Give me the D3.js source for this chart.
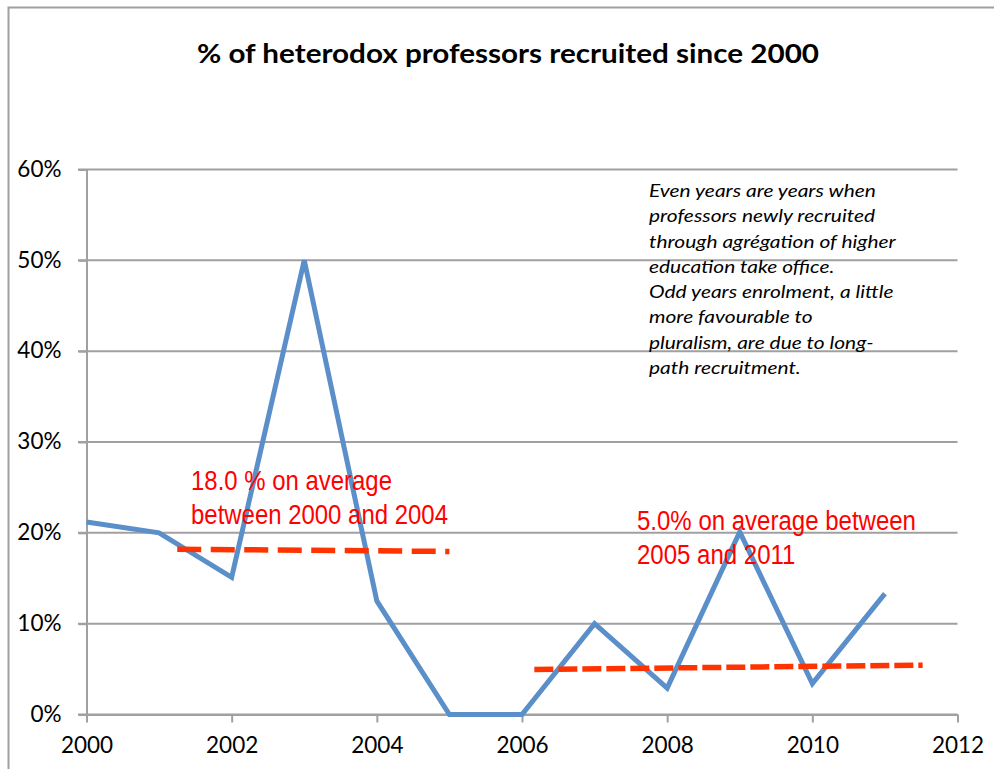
<!DOCTYPE html>
<meta charset="utf-8">
<title>% of heterodox professors recruited since 2000</title>
<style>
body {
  margin: 0;
  background: #fff;
}
.axis text {
  font-family: Lato, sans-serif;
  font-size: 22.5px;
  fill: #000;
}
.axis path, .axis line, .grid line {
  stroke: #a0a0a0;
  stroke-width: 2px;
}
</style>
<body>
<script src="https://cdn.jsdelivr.net/npm/d3@7"></script>
<script>

var years = [2000, 2001, 2002, 2003, 2004, 2005, 2006, 2007, 2008, 2009, 2010, 2011];
var share = [0.212, 0.200, 0.151, 0.500, 0.125, 0, 0, 0.100, 0.029, 0.201, 0.034, 0.133];

// trend segments drawn as in the original (start/end year, value)
var avg1 = [[2001.25, 0.182], [2005.0, 0.1795]];
var avg2 = [[2006.17, 0.0496], [2011.52, 0.0543]];

var xTicks = [2000, 2002, 2004, 2006, 2008, 2010, 2012];
var yTicks = [0, 0.1, 0.2, 0.3, 0.4, 0.5, 0.6];

var title = "% of heterodox professors recruited since 2000";
var label1 = ["18.0 % on average", "between 2000 and 2004"];
var label2 = ["5.0% on average between", "2005 and 2011"];
var note = [
  "Even years are years when",
  "professors newly recruited",
  "through agrégation of higher",
  "education take office.",
  "Odd years enrolment, a little",
  "more favourable to",
  "pluralism, are due to long-",
  "path recruitment."
];

var w = 994, h = 769;

var svg = d3.select("body").append("svg")
    .attr("width", w)
    .attr("height", h);

// outer frame (cut by the picture on right and bottom)
svg.append("rect")
    .attr("x", 8.5).attr("y", 7.5)
    .attr("width", 1000).attr("height", 800)
    .attr("fill", "none")
    .attr("stroke", "#a0a0a0")
    .attr("stroke-width", 2);

var x = d3.scaleLinear().domain([2000, 2012]).range([86.5, 957.5]);
var y = d3.scaleLinear().domain([0, 0.6]).range([714.5, 169.5]);

// grid
svg.append("g").attr("class", "grid")
  .selectAll("line")
  .data(yTicks)
  .enter().append("line")
    .attr("x1", 78).attr("x2", x(2012))
    .attr("y1", function(d) { return y(d); })
    .attr("y2", function(d) { return y(d); });

svg.append("g")
    .attr("class", "axis")
    .attr("transform", "translate(" + x(2000) + ",0)")
    .call(d3.axisLeft(y).tickValues(yTicks).tickSizeInner(8).tickSizeOuter(0).tickPadding(17)
      .tickFormat(d3.format(".0%")))
    .selectAll("text").attr("dy", "0.3em");

svg.append("g")
    .attr("class", "axis")
    .attr("transform", "translate(0," + y(0) + ")")
    .call(d3.axisBottom(x).tickValues(xTicks).tickSizeInner(8).tickSizeOuter(0).tickPadding(24)
      .tickFormat(d3.format("d")))
    .selectAll("text").attr("dy", "0.3em");

// main series
var line = d3.line()
    .x(function(d, i) { return x(years[i]); })
    .y(function(d) { return y(d); });

svg.append("path")
    .datum(share)
    .attr("d", line)
    .attr("fill", "none")
    .attr("stroke", "#5b8fca")
    .attr("stroke-width", 5)
    .attr("stroke-linejoin", "miter");

// averages
var seg = d3.line()
    .x(function(d) { return x(d[0]); })
    .y(function(d) { return y(d[1]); });

[[avg1, "24,9.5"], [avg2, "19,5"]].forEach(function(a) {
  svg.append("path")
      .datum(a[0])
      .attr("d", seg)
      .attr("fill", "none")
      .attr("stroke", "#ff3300")
      .attr("stroke-width", 5.5)
      .attr("stroke-dasharray", a[1]);
});

// title
svg.append("text")
    .attr("x", 197).attr("y", 63)
    .attr("textLength", 622)
    .attr("lengthAdjust", "spacingAndGlyphs")
    .style("font-family", "Lato, sans-serif")
    .style("font-weight", "bold")
    .style("font-size", "26px")
    .text(title);

// red labels, condensed like the original
function redLabel(lines, x0, y0, width0) {
  var g = svg.append("g").attr("transform", "translate(" + x0 + "," + y0 + ")");
  var t = g.selectAll("text")
      .data(lines)
    .enter().append("text")
      .attr("x", 0)
      .attr("y", function(d, i) { return i * 34; })
      .style("font-family", "'Liberation Sans', Arial, sans-serif")
      .style("font-size", "28px")
      .style("fill", "#ff0000")
      .text(function(d) { return d; });
  var widest = d3.max(t.nodes(), function(n) { return n.getComputedTextLength(); });
  g.attr("transform", "translate(" + x0 + "," + y0 + ") scale(" + (width0 / widest) + ",1)");
}
redLabel(label1, 191, 490, 257);
redLabel(label2, 637, 530, 279);

// note
var ng = svg.append("g");
var nt = ng.selectAll("text")
    .data(note)
  .enter().append("text")
    .attr("x", 0)
    .attr("y", function(d, i) { return i * 25.3; })
    .style("font-family", "Lato, sans-serif")
    .style("font-style", "italic")
    .style("font-size", "17.5px")
    .style("fill", "#000")
    .text(function(d) { return d; });
var nw = nt.nodes()[0].getComputedTextLength();
ng.attr("transform", "translate(649,197) scale(" + (227 / nw) + ",1)");

</script>
